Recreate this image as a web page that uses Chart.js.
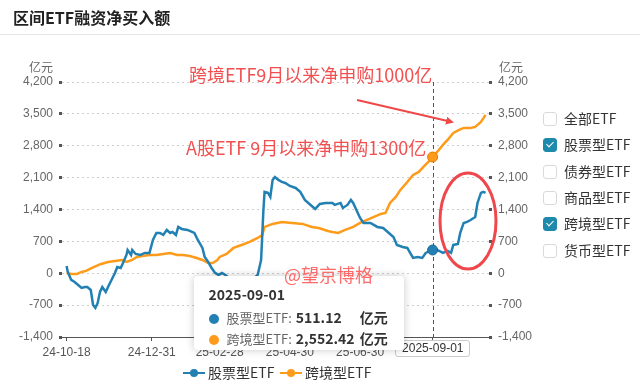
<!DOCTYPE html>
<html><head><meta charset="utf-8">
<script src="https://cdn.jsdelivr.net/npm/chart.js@4/dist/chart.umd.min.js"></script>
<style>
html,body{margin:0;padding:0;background:#fff;}
#wrap{position:relative;width:640px;height:383px;overflow:hidden;font-family:"Noto Sans CJK SC","Noto Sans",sans-serif;background:#fff;}
canvas{position:absolute;left:0;top:0;}
.abs{position:absolute;white-space:nowrap;}
#title{left:13px;top:6px;font-size:16px;font-weight:bold;color:#222;line-height:22px;}
#sep{left:0;top:34px;width:640px;height:1px;background:#e6e6e6;}
.unit{font-size:12px;color:#666;line-height:14px;top:60px;}
.note{font-size:18px;color:#f25050;line-height:22px;}
#wm{font-size:18px;color:#ff6a6a;line-height:22px;left:284px;top:263px;z-index:5;}
.rrow{position:absolute;left:543px;width:90px;height:16px;font-size:14px;color:#333;line-height:16px;white-space:nowrap;}
.cb{position:absolute;left:0;top:1px;width:12px;height:12px;border:1px solid #d9d9d9;border-radius:3px;background:#fff;}
.cb.on{background:#1e8aab;border-color:#1e8aab;}
.cb.on:after{content:"";position:absolute;left:3.5px;top:1px;width:3px;height:6px;border:solid #fff;border-width:0 1.6px 1.6px 0;transform:rotate(45deg);}
.rlab{position:absolute;left:21px;top:-1px;white-space:nowrap;}
#tip{background:#fff;border-radius:4px;box-shadow:0 0 8px rgba(0,0,0,0.22);width:210px;height:74px;top:276px;z-index:4;}
#tip .t{position:absolute;left:15px;top:9px;font-size:14px;font-weight:bold;color:#333;line-height:18px;}
#tip .r{position:absolute;left:15px;font-size:13px;color:#666;line-height:18px;white-space:nowrap;}
#tip .dot{display:inline-block;width:10px;height:10px;border-radius:5px;margin-right:8px;vertical-align:-1px;}
#tip .v{display:inline-block;width:64px;font-weight:bold;color:#333;font-size:14px;margin-left:4px;}
#tip .u{font-weight:bold;color:#333;font-size:14px;}
#apl{top:340px;height:15px;border:1px solid #ccc;border-radius:3px;background:#fff;font-size:12px;color:#333;line-height:15px;padding:0 6px;font-family:"Liberation Sans",sans-serif;}
.bl{position:absolute;top:365px;width:90px;height:16px;font-size:14px;color:#333;line-height:16px;white-space:nowrap;}
.bl .ln{position:absolute;left:0;top:7px;width:22px;height:2px;}
.bl .cd{position:absolute;left:7px;top:4px;width:8px;height:8px;border-radius:5px;}
.bl .tx{position:absolute;left:25px;top:-1px;white-space:nowrap;}
</style></head><body>
<div id="wrap">
<canvas id="c" width="640" height="383"></canvas>
<div class="abs" id="title">区间ETF融资净买入额</div>
<div class="abs" id="sep"></div>
<div class="abs unit" style="left:29px">亿元</div>
<div class="abs unit" style="left:499px">亿元</div>
<div class="abs note" style="left:189px;top:63px">跨境ETF9月以来净申购1000亿</div>
<div class="abs note" style="left:186px;top:136px">A股ETF 9月以来净申购1300亿</div>
<svg class="abs" style="left:0;top:0" width="640" height="383">
  <defs><marker id="ah" markerWidth="8" markerHeight="8" refX="6" refY="4" orient="auto" markerUnits="userSpaceOnUse"><path d="M0,0 L8,4 L0,8 Z" fill="#f04848"/></marker></defs>
  <line x1="357" y1="100" x2="452" y2="122" stroke="#f04848" stroke-width="2" marker-end="url(#ah)"/>
  <ellipse cx="468" cy="221" rx="28" ry="48" fill="none" stroke="#f0474d" stroke-width="3"/>
</svg>
<div id="rleg"></div>
<div id="bleg"></div>
<div class="abs" id="tip"></div>
<div class="abs" id="apl"></div>
<div class="abs" id="wm">@望京博格</div>
</div>
<script>
const stockDates = ['2024-10-18','2024-10-19','2024-10-22','2024-10-25','2024-10-28','2024-10-31','2024-11-03','2024-11-05','2024-11-08','2024-11-10','2024-11-12','2024-11-14','2024-11-16','2024-11-18','2024-11-21','2024-11-23','2024-11-26','2024-11-29','2024-12-01','2024-12-04','2024-12-06','2024-12-09','2024-12-10','2024-12-13','2024-12-14','2024-12-17','2024-12-21','2024-12-25','2024-12-29','2025-01-01','2025-01-04','2025-01-07','2025-01-10','2025-01-13','2025-01-16','2025-01-18','2025-01-21','2025-01-23','2025-01-26','2025-01-31','2025-02-04','2025-02-06','2025-02-09','2025-02-13','2025-02-15','2025-02-18','2025-02-21','2025-02-24','2025-02-27','2025-03-02','2025-03-05','2025-03-13','2025-03-22','2025-03-31','2025-04-02','2025-04-05','2025-04-07','2025-04-08','2025-04-11','2025-04-13','2025-04-15','2025-04-17','2025-04-20','2025-04-23','2025-04-26','2025-04-30','2025-05-05','2025-05-09','2025-05-13','2025-05-18','2025-05-22','2025-05-26','2025-05-31','2025-06-06','2025-06-08','2025-06-13','2025-06-15','2025-06-19','2025-06-22','2025-06-24','2025-06-28','2025-06-30','2025-07-03','2025-07-09','2025-07-15','2025-07-20','2025-07-25','2025-07-29','2025-08-01','2025-08-06','2025-08-10','2025-08-15','2025-08-19','2025-08-23','2025-08-26','2025-08-28','2025-09-01','2025-09-05','2025-09-10','2025-09-14','2025-09-17','2025-09-19','2025-09-23','2025-09-25','2025-09-28','2025-10-01','2025-10-04','2025-10-08','2025-10-10','2025-10-13','2025-10-15','2025-10-17'];
const stockValues = [160,30,-147,-191,-257,-323,-301,-301,-367,-696,-762,-652,-411,-301,-411,-301,-147,7,138,116,226,402,512,402,512,424,402,446,446,731,885,885,841,951,885,907,841,1017,973,951,907,885,731,556,358,248,116,7,-37,7,-37,-213,-147,-81,-37,292,1390,1786,1764,1676,2049,2115,2049,2005,1983,1917,1873,1786,1610,1500,1412,1522,1544,1544,1500,1544,1434,1500,1610,1544,1324,1214,1105,1105,1017,995,885,797,621,578,556,336,358,336,446,468,511.12,512,446,490,446,622,643,885,1105,1127,1170,1236,1544,1764,1786,1764];
const crossDates = ['2024-10-18','2024-10-22','2024-10-27','2024-10-31','2024-11-04','2024-11-09','2024-11-13','2024-11-17','2024-11-23','2024-11-29','2024-12-05','2024-12-09','2024-12-14','2024-12-18','2024-12-23','2024-12-29','2025-01-04','2025-01-10','2025-01-16','2025-01-22','2025-01-27','2025-02-02','2025-02-08','2025-02-13','2025-02-18','2025-02-22','2025-02-26','2025-02-28','2025-03-06','2025-03-12','2025-03-19','2025-03-26','2025-04-02','2025-04-06','2025-04-08','2025-04-15','2025-04-23','2025-05-02','2025-05-11','2025-05-19','2025-05-25','2025-06-02','2025-06-06','2025-06-11','2025-06-17','2025-06-24','2025-06-30','2025-07-06','2025-07-12','2025-07-18','2025-07-22','2025-07-26','2025-07-31','2025-08-04','2025-08-10','2025-08-15','2025-08-20','2025-08-24','2025-08-30','2025-09-01','2025-09-05','2025-09-10','2025-09-14','2025-09-19','2025-09-24','2025-09-28','2025-10-04','2025-10-08','2025-10-13','2025-10-17'];
const crossValues = [7,-15,-15,29,51,116,160,204,248,270,292,248,292,358,380,402,402,424,446,402,402,380,336,292,226,226,292,358,424,556,621,687,775,841,1017,1083,1127,1105,1083,1017,995,929,907,885,951,1017,1105,1170,1236,1302,1324,1544,1676,1830,2005,2159,2225,2335,2489,2552.42,2664,2818,2928,3082,3147,3191,3191,3213,3323,3477];
const tickDates = ['2024-10-18','2024-12-31','2025-02-28','2025-04-30','2025-06-30','2025-09-01'];
const tickLabels = ['24-10-18','24-12-31','25-02-28','25-04-30','25-06-30','25-09-01'];
const seriesNames = ['股票型ETF','跨境型ETF'];
const legendItems = ['全部ETF','股票型ETF','债券型ETF','商品型ETF','跨境型ETF','货币型ETF'];
const legendChecked = [false,true,false,false,true,false];
const focusDate = '2025-09-01';
const unitText = '亿元';

const BLUE = '#2380b3', ORANGE = '#ff9b1a';
const DAY = 86400000, t0 = Date.parse(stockDates[0]);
const toDay = s => Math.round((Date.parse(s) - t0) / DAY);
const focusDay = toDay(focusDate);
const tickFont = {family:'"Liberation Sans", Arial, sans-serif', size:12};

const crosshair = {
  id:'crosshair',
  beforeDatasetsDraw(c){
    const x = Math.round(c.scales.x.getPixelForValue(focusDay)) + 0.5;
    const g = c.ctx; g.save();
    g.strokeStyle = '#555'; g.lineWidth = 1; g.setLineDash([4,3]);
    g.beginPath(); g.moveTo(x, c.chartArea.top); g.lineTo(x, c.chartArea.bottom); g.stroke();
    g.restore();
  }
};
const focusRadius = ctx => (ctx.raw && ctx.raw.x === focusDay) ? 5 : 0;
function yAxis(pos, w){
  return {
    position:pos, min:-1400, max:4200,
    afterFit: s => { s.width = w; },
    ticks:{stepSize:700, padding:6, color:'#666', font:tickFont, callback:v => v.toLocaleString('en-US')},
    grid:{drawOnChartArea: pos === 'left', color:'#cfcfcf', lineWidth:1, tickColor:'#555', tickLength:3, tickWidth:3, tickBorderDash:[]},
    border:{display:false, dash:[2,3]}
  };
}
const chart = new Chart(document.getElementById('c'), {
  type:'line',
  data:{datasets:[
    {label:seriesNames[0], data: stockDates.map((d,i)=>({x:toDay(d), y:stockValues[i]})), borderColor:BLUE, backgroundColor:BLUE, borderWidth:2.5, pointRadius:focusRadius, pointBackgroundColor:BLUE, pointBorderColor:'#1a6690', pointBorderWidth:1, yAxisID:'y'},
    {label:seriesNames[1], data: crossDates.map((d,i)=>({x:toDay(d), y:crossValues[i]})), borderColor:ORANGE, backgroundColor:ORANGE, borderWidth:2.5, pointRadius:focusRadius, pointBackgroundColor:ORANGE, pointBorderColor:'#e07f00', pointBorderWidth:1, yAxisID:'y'}
  ]},
  options:{
    responsive:false, animation:false, devicePixelRatio:1, events:[],
    layout:{padding:{top:82,left:0,right:0,bottom:0}},
    plugins:{legend:{display:false}, tooltip:{enabled:false}},
    scales:{
      x:{type:'linear', min:-4, max:367,
        afterBuildTicks: s => { s.ticks = tickDates.map(d => ({value: toDay(d)})); },
        afterFit: s => { s.height = 46; },
        grid:{drawOnChartArea:false, tickLength:4, color:'#555', tickColor:'#555'},
        border:{display:true, color:'#555', width:1},
        ticks:{autoSkip:false, maxRotation:0, padding:4, color:'#555', font:tickFont,
          callback: v => { const i = tickDates.findIndex(d => toDay(d) === v); return i >= 0 ? tickLabels[i] : ''; }}
      },
      y: yAxis('left', 62),
      y2: yAxis('right', 151)
    }
  },
  plugins:[crosshair]
});

// right legend
const rleg = document.getElementById('rleg');
legendItems.forEach((t,i) => {
  const r = document.createElement('div');
  r.className = 'rrow'; r.style.top = (111 + i*26.3) + 'px';
  r.innerHTML = '<span class="cb' + (legendChecked[i] ? ' on' : '') + '"></span><span class="rlab">' + t + '</span>';
  rleg.appendChild(r);
});
// bottom legend
const bleg = document.getElementById('bleg');
[BLUE, ORANGE].forEach((col,i) => {
  const d = document.createElement('div');
  d.className = 'bl'; d.style.left = (183 + i*97) + 'px';
  d.innerHTML = '<span class="ln" style="background:'+col+'"></span><span class="cd" style="background:'+col+'"></span><span class="tx">'+seriesNames[i]+'</span>';
  bleg.appendChild(d);
});
// tooltip + axis pointer label
const fx = chart.scales.x.getPixelForValue(focusDay);
const sv = stockValues[stockDates.indexOf(focusDate)];
const cv = crossValues[crossDates.indexOf(focusDate)];
const fmt = v => v.toLocaleString('en-US', {minimumFractionDigits:2, maximumFractionDigits:2});
const tip = document.getElementById('tip');
tip.style.left = (fx - 239) + 'px';
tip.innerHTML = '<div class="t">' + focusDate + '</div>' +
  '<div class="r" style="top:32px"><span class="dot" style="background:'+BLUE+'"></span>' + seriesNames[0] + ':<span class="v">' + fmt(sv) + '</span><span class="u">' + unitText + '</span></div>' +
  '<div class="r" style="top:53px"><span class="dot" style="background:'+ORANGE+'"></span>' + seriesNames[1] + ':<span class="v">' + fmt(cv) + '</span><span class="u">' + unitText + '</span></div>';
const apl = document.getElementById('apl');
apl.textContent = focusDate;
apl.style.left = (fx - apl.offsetWidth/2) + 'px';
</script>
</body></html>
